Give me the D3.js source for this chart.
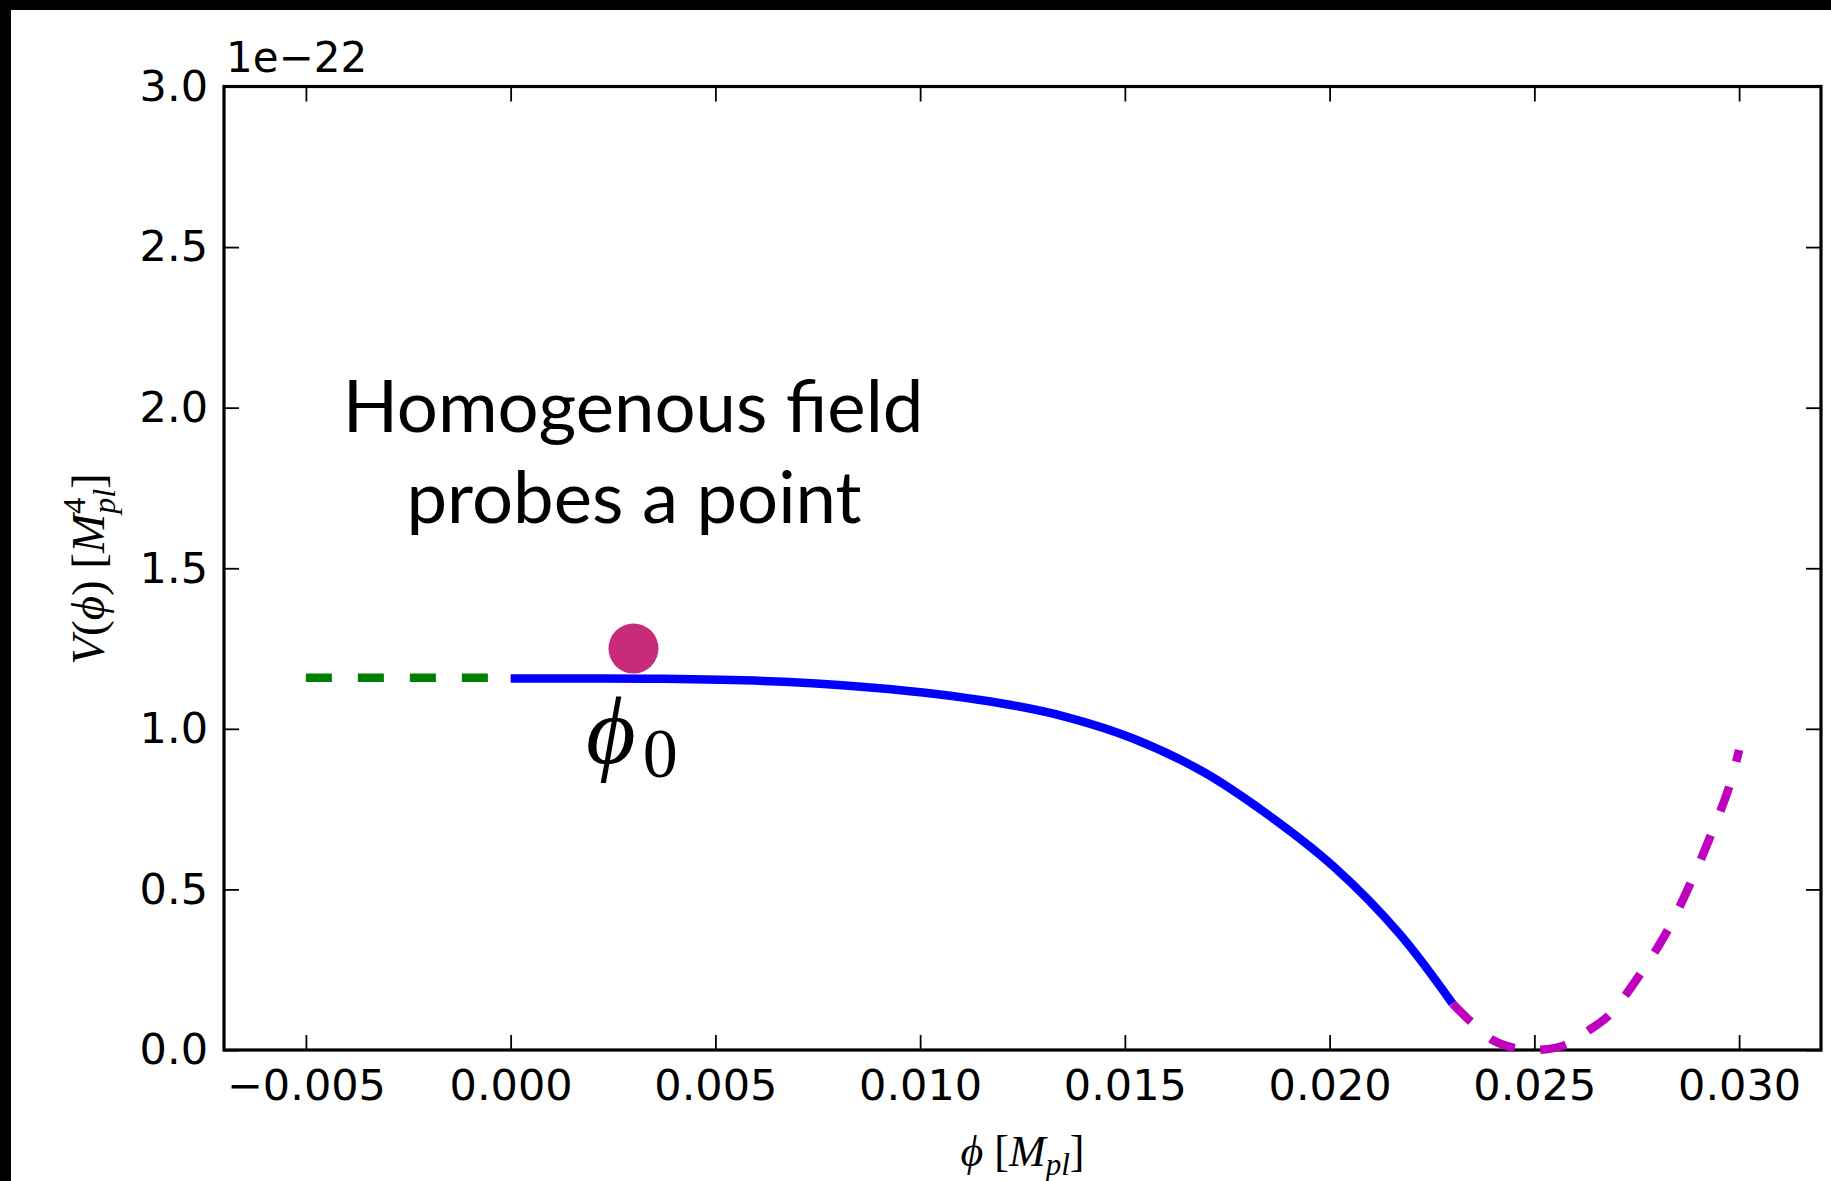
<!DOCTYPE html>
<html>
<head>
<meta charset="utf-8">
<script src="https://cdn.jsdelivr.net/npm/d3@7"></script>
<style>
  body { margin: 0; background: #fff; }
  svg { display: block; }
</style>
</head>
<body>
<script>
var width = 1831;
var height = 1181;

// data, V in units of 1e-22 Mpl^4
var greenPhi = [-0.005, 0.000];
var greenV   = [1.159, 1.159];

var bluePhi = [0.000, 0.0018, 0.0036, 0.0068, 0.0093, 0.0120, 0.0136, 0.0152, 0.0169, 0.0185, 0.0201, 0.0217, 0.0230];
var blueV   = [1.157, 1.157, 1.156, 1.146, 1.123, 1.079, 1.036, 0.970, 0.867, 0.732, 0.571, 0.363, 0.145];

var magPhi = [0.0230, 0.02345, 0.02398, 0.02455, 0.02504, 0.02577, 0.02634, 0.02683, 0.0276, 0.02826, 0.02882, 0.02931, 0.02976, 0.0300];
var magV   = [0.145, 0.088, 0.031, 0.005, 0.000, 0.016, 0.062, 0.109, 0.239, 0.374, 0.521, 0.669, 0.820, 0.934];

var dotPhi = [0.003];
var dotV = [1.25];

var xTicks = [-0.005, 0.000, 0.005, 0.010, 0.015, 0.020, 0.025, 0.030];
var yTicks = [0.0, 0.5, 1.0, 1.5, 2.0, 2.5, 3.0];

var svg = d3.select("body")
    .append("svg")
    .attr("width", width)
    .attr("height", height);

// black frame of the slide
svg.append("rect").attr("x", 0).attr("y", 0).attr("width", width).attr("height", 10).attr("fill", "#000");
svg.append("rect").attr("x", 0).attr("y", 0).attr("width", 11).attr("height", height).attr("fill", "#000");

var pLeft = 224, pRight = 1821, pTop = 86.5, pBottom = 1050;

var x = d3.scaleLinear().domain([-0.007, 0.032]).range([pLeft, pRight]);
var y = d3.scaleLinear().domain([0, 3.0]).range([pBottom, pTop]);

var tickFont = "DejaVu Sans, sans-serif";

// axes
var gx = svg.append("g")
    .attr("transform", "translate(0," + pBottom + ")")
    .call(d3.axisBottom(x).tickValues(xTicks).tickFormat(d3.format(".3f")).tickSize(-15).tickPadding(19));
var gy = svg.append("g")
    .attr("transform", "translate(" + pLeft + ",0)")
    .call(d3.axisLeft(y).tickValues(yTicks).tickFormat(d3.format(".1f")).tickSize(-15).tickPadding(16));
var gt = svg.append("g")
    .attr("transform", "translate(0," + pTop + ")")
    .call(d3.axisTop(x).tickValues(xTicks).tickFormat("").tickSize(-15));
var gr = svg.append("g")
    .attr("transform", "translate(" + pRight + ",0)")
    .call(d3.axisRight(y).tickValues(yTicks).tickFormat("").tickSize(-15));

[gx, gy, gt, gr].forEach(function(g) {
    g.select(".domain").remove();
    g.selectAll(".tick line").attr("stroke", "#000").attr("stroke-width", 1.8);
    g.selectAll(".tick text")
        .style("font-family", tickFont)
        .style("font-size", "43px")
        .attr("fill", "#000");
});

svg.append("rect")
    .attr("x", pLeft).attr("y", pTop)
    .attr("width", pRight - pLeft).attr("height", pBottom - pTop)
    .attr("fill", "none").attr("stroke", "#000").attr("stroke-width", 3.2);

// offset text
svg.append("text")
    .attr("x", 226).attr("y", 72)
    .style("font-family", tickFont).style("font-size", "42px")
    .text("1e\u221222");

// curves
function zipPts(xs, ys) { return xs.map(function(d, i) { return [d, ys[i]]; }); }

var line = d3.line()
    .x(function(d) { return x(d[0]); })
    .y(function(d) { return y(d[1]); })
    .curve(d3.curveCatmullRom.alpha(0.5));

svg.append("path")
    .datum(zipPts(greenPhi, greenV))
    .attr("d", line)
    .attr("fill", "none").attr("stroke", "#008000").attr("stroke-width", 8.5)
    .attr("stroke-dasharray", "26,26");

svg.append("path")
    .datum(zipPts(bluePhi, blueV))
    .attr("d", line)
    .attr("fill", "none").attr("stroke", "#0000ff").attr("stroke-width", 8.5);

svg.append("path")
    .datum(zipPts(magPhi, magV))
    .attr("d", line)
    .attr("fill", "none").attr("stroke", "#bf00bf").attr("stroke-width", 8.5)
    .attr("stroke-dasharray", "26,26");

svg.selectAll("circle.dot")
    .data(zipPts(dotPhi, dotV))
    .enter().append("circle")
    .attr("class", "dot")
    .attr("cx", function(d) { return x(d[0]); })
    .attr("cy", function(d) { return y(d[1]); })
    .attr("r", 25)
    .attr("fill", "#c92b7b");

// annotation text
var note = svg.append("text")
    .attr("text-anchor", "middle")
    .style("font-family", "Lato, sans-serif")
    .style("font-size", "72.5px")
    .attr("fill", "#000");
note.append("tspan").attr("x", 633).attr("y", 432).text("Homogenous field");
note.append("tspan").attr("x", 634).attr("y", 523).text("probes a point");

// phi_0 label
var mathFont = "Liberation Serif, serif";
var phi0 = svg.append("text")
    .attr("x", 586).attr("y", 763)
    .style("font-family", mathFont)
    .style("font-size", "96px");
phi0.append("tspan").style("font-style", "italic").text("\u03d5");
phi0.append("tspan").attr("dy", 14).attr("dx", 7).style("font-size", "70px").text("0");

// axis labels
var xl = svg.append("text")
    .attr("x", (pLeft + pRight) / 2).attr("y", 1166)
    .attr("text-anchor", "middle")
    .style("font-family", mathFont)
    .style("font-size", "44px");
xl.append("tspan").style("font-style", "italic").text("\u03d5");
xl.append("tspan").text(" [");
xl.append("tspan").style("font-style", "italic").text("M");
xl.append("tspan").style("font-style", "italic").style("font-size", "31px").attr("dy", 9).text("pl");
xl.append("tspan").attr("dy", -9).text("]");

var yl = svg.append("text")
    .attr("transform", "translate(104,569) rotate(-90)")
    .attr("text-anchor", "middle")
    .style("font-family", mathFont)
    .style("font-size", "47px");
yl.append("tspan").style("font-style", "italic").text("V");
yl.append("tspan").text("(");
yl.append("tspan").style("font-style", "italic").text("\u03d5");
yl.append("tspan").text(")  [");
yl.append("tspan").style("font-style", "italic").text("M");
yl.append("tspan").style("font-size", "32px").attr("dy", -19).text("4");
yl.append("tspan").style("font-style", "italic").style("font-size", "32px").attr("dx", -16).attr("dy", 30).text("pl");
yl.append("tspan").attr("dy", -11).text("]");
</script>
</body>
</html>
